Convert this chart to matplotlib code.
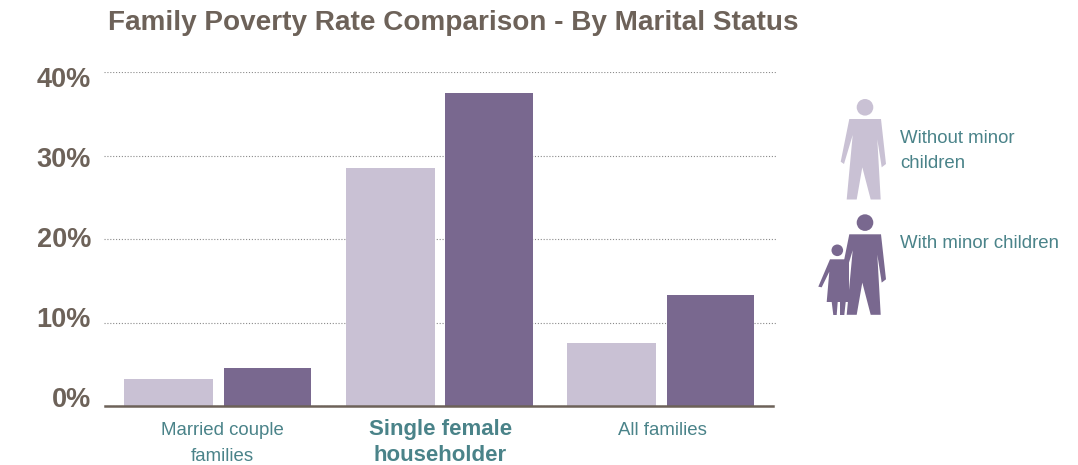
import matplotlib
matplotlib.use('Agg')
import matplotlib.pyplot as plt
from matplotlib.patches import Circle, Polygon
import numpy as np

W, H = 1078, 465
LIGHT = '#C9C1D4'
DARK = '#79688F'
TEAL = '#4A8389'
BROWN = '#6D6259'

# ── Data ─────────────────────────────────────
categories = ['Married couple\nfamilies', 'Single female\nhouseholder', 'All families']
without_minor = [3.2, 28.5, 7.5]
with_minor = [4.5, 37.5, 13.3]
y_ticks = [0, 10, 20, 30, 40]
y_labels = ['0%', '10%', '20%', '30%', '40%']

SANS = ['Liberation Sans', 'DejaVu Sans']

fig = plt.figure(figsize=(W / 100, H / 100), dpi=100, facecolor='white')

# axes: x 104-776 px, y 0% at 406 px, 40% at 72.3 px
ax = fig.add_axes([104 / W, 1 - 406 / H, 672 / W, 333.7 / H])
ax.set_xlim(-0.515, 2.519)
ax.set_ylim(0, 40)
ax.set_facecolor('none')

x = np.arange(len(categories))
ax.bar(x - 0.2235, without_minor, 0.402, color=LIGHT, zorder=3)
ax.bar(x + 0.2235, with_minor, 0.394, color=DARK, zorder=3)

for s in ['top', 'right', 'left']:
    ax.spines[s].set_visible(False)
ax.spines['bottom'].set_color(BROWN)
ax.spines['bottom'].set_linewidth(1.8)
ax.spines['bottom'].set_zorder(4)
ax.spines['bottom'].set_bounds(-0.51, 2.505)

ax.set_yticks(y_ticks)
ax.set_yticklabels([])
ax.set_xticks(x)
ax.set_xticklabels([])
ax.tick_params(length=0)
ax.grid(axis='y', color='#8A8A8A', linestyle=(0, (1, 1.6)), linewidth=0.8, zorder=1)

# ── Everything else placed in pixel space ─────────
ov = fig.add_axes([0, 0, 1, 1])
ov.set_xlim(0, W)
ov.set_ylim(H, 0)
ov.axis('off')
ov.patch.set_alpha(0)

ov.text(108, 30, 'Family Poverty Rate Comparison - By Marital Status',
        fontsize=20.1, fontweight='bold', color=BROWN, family=SANS, va='baseline')

# y labels sit on an even 80 px pitch, not on the gridlines
for i, lab in enumerate(y_labels):
    ov.text(91, 407 - 80 * i, lab, fontsize=19.5, fontweight='bold', color=BROWN,
            family=SANS, ha='right', va='baseline')

# category labels (middle one is bold and wider)
label_x = [222, 440.5, 662.5]
for i, (lx, lab) in enumerate(zip(label_x, categories)):
    for j, line in enumerate(lab.split('\n')):
        if i == 1:
            ov.text(lx, 435 + 26 * j, line, fontsize=16, fontweight='bold', color=TEAL,
                    family=SANS, ha='center', va='baseline')
        else:
            ov.text(lx, 435 + 26 * j, line, fontsize=13.4, color=TEAL,
                    family=SANS, ha='center', va='baseline')


def person(dx, dy, color):
    ov.add_patch(Circle((865 + dx, 107.3 + dy), 8.3, color=color, lw=0))
    body = [(849.3, 119), (881, 119), (886, 164), (881.7, 167.3), (877.3, 139.3), (880.7, 199.5),
            (870.7, 199.5), (862.3, 167.3), (856.7, 199.5), (846.7, 199.5), (852.7, 135),
            (844, 164), (840.7, 161.7)]
    ov.add_patch(Polygon([(px + dx, py + dy) for px, py in body], color=color, lw=0))


person(0, 0, LIGHT)
person(0, 115.3, DARK)

# child next to the second figure
ov.add_patch(Circle((837.3, 250.3), 5.8, color=DARK, lw=0))
child = [(830, 259.3), (849, 259.3), (849, 302), (845.7, 302), (844.3, 315), (840, 315), (840, 302),
         (837.7, 302), (836.7, 315), (833.3, 315), (831.7, 302), (826.7, 302), (829.3, 271.7),
         (821.7, 287.3), (818.3, 286.7)]
ov.add_patch(Polygon(child, color=DARK, lw=0))

ov.text(900, 143, 'Without minor', fontsize=13.4, color=TEAL, family=SANS, ha='left', va='baseline')
ov.text(900, 168, 'children', fontsize=13.4, color=TEAL, family=SANS, ha='left', va='baseline')
ov.text(900, 248, 'With minor children', fontsize=13.4, color=TEAL, family=SANS, ha='left', va='baseline')

fig.savefig('out.png', dpi=100, facecolor='white')
